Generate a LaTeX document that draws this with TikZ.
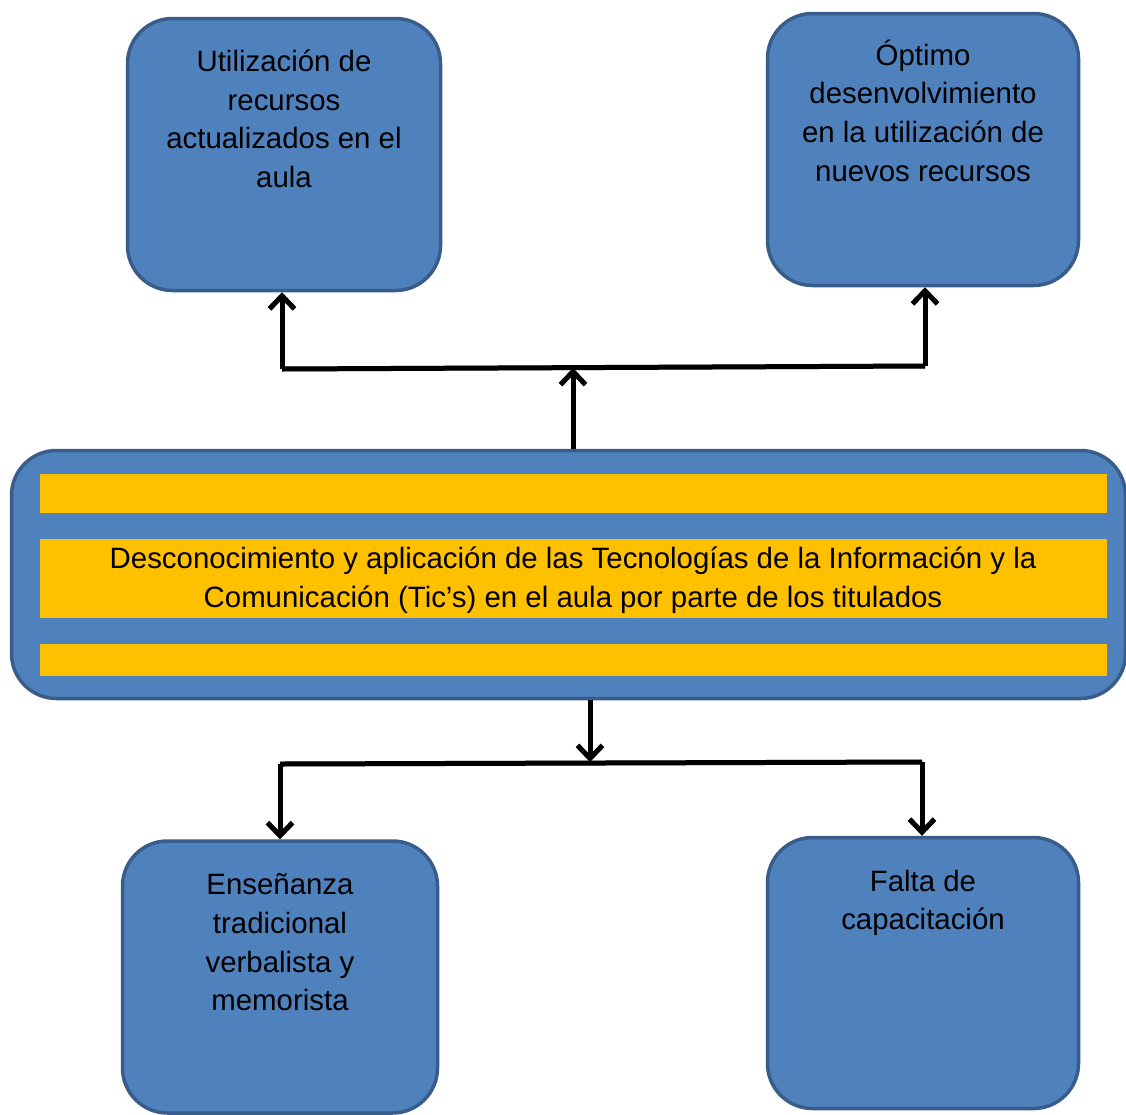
\documentclass[tikz,border=0pt]{standalone}
\usepackage{fontspec}
\setmainfont{Liberation Sans}
\usetikzlibrary{arrows.meta}
\definecolor{boxblue}{HTML}{4F81BD}
\definecolor{boxedge}{HTML}{385D8A}
\definecolor{stripe}{HTML}{FFC000}
\tikzset{
  box/.style={draw=boxedge, fill=boxblue, line width=3.5pt, rounded corners=45pt, inner sep=0pt},
  boxtext/.style={font=\fontsize{29.4}{38.7}\selectfont, align=center, inner sep=0pt, anchor=north, text=black},
  conn/.style={line width=5pt, draw=black},
  connshadow/.style={line width=5pt, draw=black!35},
  arr/.style={-{Straight Barb[length=13pt,width=25pt,line width=5pt]}},
}
\begin{document}
\begin{tikzpicture}[x=1pt,y=-1pt]
\useasboundingbox (0,0) rectangle (1126,1114);
% boxes
\node[box, minimum width=313pt, minimum height=272pt] (tl) at (284,154.5) {};
\node[box, minimum width=311pt, minimum height=272pt] (tr) at (923,149.5) {};
\node[box, minimum width=1114pt, minimum height=248pt] (c) at (568.5,574.5) {};
\node[box, minimum width=315pt, minimum height=272pt] (bl) at (280,977) {};
\node[box, minimum width=311pt, minimum height=271pt] (br) at (923,973) {};
% stripes
\fill[stripe] (40,474) rectangle (1107,513);
\fill[stripe] (40,539) rectangle (1107,618);
\fill[stripe] (40,644) rectangle (1107,676);
% texts
\node[boxtext] (tlt) at (284,49.5) {Utilización de\\recursos\\actualizados en el\\aula};
\node[boxtext] (trt) at (923,39.5) {Óptimo\\desenvolvimiento\\en la utilización de\\nuevos recursos};
\node[boxtext] (ct) at (573,546.5) {Desconocimiento y aplicación de las Tecnologías de la Información y la\\Comunicación (Tic’s) en el aula por parte de los titulados};
\node[boxtext] (blt) at (280,873.5) {Enseñanza\\tradicional\\verbalista y\\memorista};
\node[boxtext] (brt) at (923,869.5) {Falta de\\capacitación};
% junction coordinates
\coordinate (tj) at (573,368);
\coordinate (tL) at (282,369);
\coordinate (tR) at (925,366);
\coordinate (bj) at (590,762);
\coordinate (bL) at (280,764);
\coordinate (bR) at (922,762);
% shadows
\begin{scope}[shift={(1.5,4)}]
\draw[connshadow, arr] (tj |- c.north) -- (tj);
\draw[connshadow] (tL) -- (tR);
\draw[connshadow, arr] (tL) -- (tL |- tl.south);
\draw[connshadow, arr] (tR) -- (tR |- tr.south);
\draw[connshadow, arr] (bj |- c.south) -- (bj);
\draw[connshadow] (bL) -- (bR);
\draw[connshadow, arr] (bL) -- (bL |- bl.north);
\draw[connshadow, arr] (bR) -- (bR |- br.north);
\end{scope}
% connectors
\draw[conn, arr] (tj |- c.north) -- (tj);
\draw[conn] (tL) -- (tR);
\draw[conn, arr] (tL) -- (tL |- tl.south);
\draw[conn, arr] (tR) -- (tR |- tr.south);
\draw[conn, arr] (bj |- c.south) -- (bj);
\draw[conn] (bL) -- (bR);
\draw[conn, arr] (bL) -- (bL |- bl.north);
\draw[conn, arr] (bR) -- (bR |- br.north);
\end{tikzpicture}
\end{document}
